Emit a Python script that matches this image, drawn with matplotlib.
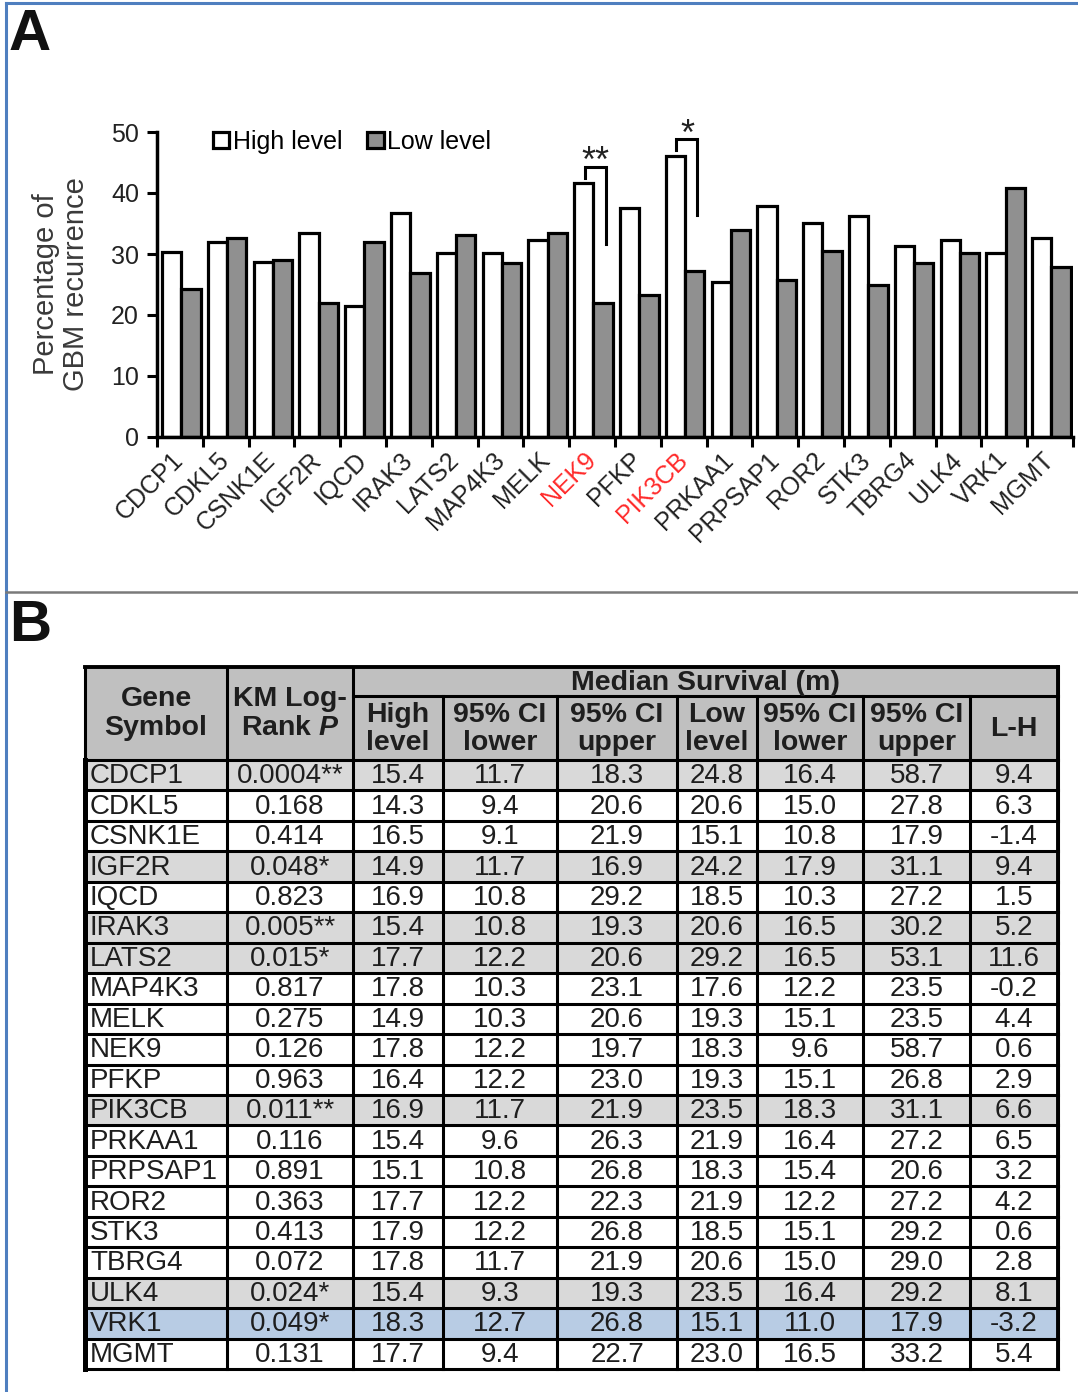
import matplotlib
matplotlib.use("Agg")
import matplotlib.pyplot as plt
from matplotlib.patches import Rectangle
import numpy as np

plt.rcParams['font.family'] = ['Liberation Sans', 'DejaVu Sans']
plt.rcParams['mathtext.fontset'] = 'custom'
plt.rcParams['mathtext.rm'] = 'Liberation Sans:bold'
plt.rcParams['mathtext.it'] = 'Liberation Sans:italic:bold'

# ---- panel A data: % GBM recurrence by expression level ----
genes = ['CDCP1', 'CDKL5', 'CSNK1E', 'IGF2R', 'IQCD', 'IRAK3', 'LATS2', 'MAP4K3',
         'MELK', 'NEK9', 'PFKP', 'PIK3CB', 'PRKAA1', 'PRPSAP1', 'ROR2', 'STK3',
         'TBRG4', 'ULK4', 'VRK1', 'MGMT']
high_pct = [30.4, 31.9, 28.7, 33.4, 21.4, 36.7, 30.2, 30.1, 32.3, 41.7,
            37.5, 46.1, 25.4, 37.8, 35.1, 36.2, 31.3, 32.3, 30.1, 32.7]
low_pct = [24.3, 32.7, 29.0, 22.0, 31.9, 26.9, 33.1, 28.5, 33.4, 21.9,
           23.3, 27.2, 33.9, 25.7, 30.5, 24.9, 28.6, 30.1, 40.9, 27.8]
red_genes = ['NEK9', 'PIK3CB']

# significance brackets: gene, stars, top, left leg end, right leg end
sig_genes = ['NEK9', 'PIK3CB']
sig_stars = ['**', '*']
sig_top = [44.3, 48.8]
sig_left_end = [42.5, 47.0]
sig_right_end = [31.6, 36.4]

# ---- panel B data: median survival table ----
km_p = ['0.0004**', '0.168', '0.414', '0.048*', '0.823', '0.005**', '0.015*', '0.817',
        '0.275', '0.126', '0.963', '0.011**', '0.116', '0.891', '0.363', '0.413',
        '0.072', '0.024*', '0.049*', '0.131']
high_med = ['15.4', '14.3', '16.5', '14.9', '16.9', '15.4', '17.7', '17.8', '14.9', '17.8',
            '16.4', '16.9', '15.4', '15.1', '17.7', '17.9', '17.8', '15.4', '18.3', '17.7']
high_lo = ['11.7', '9.4', '9.1', '11.7', '10.8', '10.8', '12.2', '10.3', '10.3', '12.2',
           '12.2', '11.7', '9.6', '10.8', '12.2', '12.2', '11.7', '9.3', '12.7', '9.4']
high_hi = ['18.3', '20.6', '21.9', '16.9', '29.2', '19.3', '20.6', '23.1', '20.6', '19.7',
           '23.0', '21.9', '26.3', '26.8', '22.3', '26.8', '21.9', '19.3', '26.8', '22.7']
low_med = ['24.8', '20.6', '15.1', '24.2', '18.5', '20.6', '29.2', '17.6', '19.3', '18.3',
           '19.3', '23.5', '21.9', '18.3', '21.9', '18.5', '20.6', '23.5', '15.1', '23.0']
low_lo = ['16.4', '15.0', '10.8', '17.9', '10.3', '16.5', '16.5', '12.2', '15.1', '9.6',
          '15.1', '18.3', '16.4', '15.4', '12.2', '15.1', '15.0', '16.4', '11.0', '16.5']
low_hi = ['58.7', '27.8', '17.9', '31.1', '27.2', '30.2', '53.1', '23.5', '23.5', '58.7',
          '26.8', '31.1', '27.2', '20.6', '27.2', '29.2', '29.0', '29.2', '17.9', '33.2']
l_minus_h = ['9.4', '6.3', '-1.4', '9.4', '1.5', '5.2', '11.6', '-0.2', '4.4', '0.6',
             '2.9', '6.6', '6.5', '3.2', '4.2', '0.6', '2.8', '8.1', '-3.2', '5.4']
highlight_gene = 'VRK1'
sub_headers = ['High\nlevel', '95% CI\nlower', '95% CI\nupper', 'Low\nlevel',
               '95% CI\nlower', '95% CI\nupper', 'L-H']

W, H = 1078, 1392
fig = plt.figure(figsize=(W / 100, H / 100), dpi=100)


def fx(px):
    return px / W


def fy(py):
    return 1 - py / H


# ---------------- panel A: bar chart ----------------
ax = fig.add_axes([fx(157), fy(437), (1073 - 157) / W, (437 - 132) / H])
x = np.arange(len(genes))
bw = 0.42
ax.bar(x + 0.32, high_pct, width=bw, color='white', edgecolor='black',
       linewidth=2.3, label='High level', zorder=2)
ax.bar(x + 0.74, low_pct, width=bw, color='#909090', edgecolor='black',
       linewidth=2.3, label='Low level', zorder=2)

ax.set_xlim(0, len(genes))
ax.set_ylim(0, 50)
ax.set_yticks(range(0, 51, 10))
ax.set_xticks(x + 0.5)
ax.set_xticklabels(genes, rotation=45, ha='right', va='center',
                   rotation_mode='anchor', fontsize=18, color='#222222')
ax.set_xticks(np.arange(len(genes) + 1), minor=True)
ax.tick_params(axis='x', which='major', length=0, pad=14)
ax.tick_params(axis='x', which='minor', length=7, width=2.2, direction='out')
ax.tick_params(axis='y', length=7, width=2.2, direction='out', labelsize=18,
               labelcolor='#222222', pad=6)
for lab in ax.get_xticklabels():
    if lab.get_text() in red_genes:
        lab.set_color('#ff2b2b')

for side in ['top', 'right']:
    ax.spines[side].set_visible(False)
for side in ['left', 'bottom']:
    ax.spines[side].set_linewidth(2.5)

ax.set_ylabel('Percentage of\nGBM recurrence', fontsize=21, color='#3a3a3a',
              linespacing=1.1)
ax.yaxis.set_label_coords(-0.073, 0.5)

ax.legend(loc='upper left', bbox_to_anchor=(0.05, 1.04), ncol=2, frameon=False,
          fontsize=18, handlelength=0.65, handleheight=0.65, handletextpad=0.15,
          columnspacing=1.0, borderaxespad=0)

# brackets over the significant pairs
for g, s, top, le, re in zip(sig_genes, sig_stars, sig_top, sig_left_end, sig_right_end):
    i = genes.index(g)
    x0, x1 = i + 0.34, i + 0.80
    ax.plot([x0, x0, x1, x1], [le, top, top, re], color='black', lw=2.2,
            clip_on=False, solid_joinstyle='miter', zorder=3)
    ax.text((x0 + x1) / 2, top - 2.2, s, ha='center', va='bottom', fontsize=26,
            color='#222222', clip_on=False)

# ---------------- overlay in pixel space: frame + table ----------------
tax = fig.add_axes([0, 0, 1, 1])
tax.set_xlim(0, W)
tax.set_ylim(H, 0)
tax.axis('off')
tax.patch.set_visible(False)

frame_blue = '#4f7fbf'
tax.plot([6, W], [3, 3], color=frame_blue, lw=2.2)
tax.plot([6, 6], [3, H], color=frame_blue, lw=2.2)
tax.plot([6, W], [592, 592], color='#7a7a7a', lw=1.8)

fig.text(fx(9), fy(50), 'A', fontsize=42, fontweight='bold', ha='left',
         va='baseline', color='#111111')
fig.text(fx(9), fy(641), 'B', fontsize=42, fontweight='bold', ha='left',
         va='baseline', color='#111111')

col_edges = [85, 227, 353, 443, 557, 677, 757, 863, 970, 1058]
y_top, y_mid, y_hdr = 667, 696, 760
n_rows = len(genes)
row_h = (1369 - y_hdr) / n_rows
y_bot = y_hdr + n_rows * row_h

hdr_color = '#c0c0c0'
sig_color = '#d9d9d9'
blue_color = '#b8cce4'
txt_color = '#1e1e1e'
lw_cell = 2.2

tax.add_patch(Rectangle((col_edges[0], y_top), col_edges[-1] - col_edges[0],
                        y_hdr - y_top, facecolor=hdr_color, edgecolor='none'))

columns = [genes, km_p, high_med, high_lo, high_hi, low_med, low_lo, low_hi, l_minus_h]
for r in range(n_rows):
    y0 = y_hdr + r * row_h
    if genes[r] == highlight_gene:
        fc = blue_color
    elif '*' in km_p[r]:
        fc = sig_color
    else:
        fc = 'white'
    tax.add_patch(Rectangle((col_edges[0], y0), col_edges[-1] - col_edges[0], row_h,
                            facecolor=fc, edgecolor='none'))
    yc = y0 + row_h / 2 + 1
    for c, col in enumerate(columns):
        if c == 0:
            tax.text(col_edges[0] + 5, yc, col[r], ha='left', va='center',
                     fontsize=20, color=txt_color)
        else:
            tax.text((col_edges[c] + col_edges[c + 1]) / 2, yc, col[r], ha='center',
                     va='center', fontsize=20, color=txt_color)

# grid lines
for r in range(n_rows + 1):
    yy = y_hdr + r * row_h
    tax.plot([col_edges[0], col_edges[-1]], [yy, yy], color='black', lw=lw_cell)
tax.plot([col_edges[2], col_edges[-1]], [y_mid, y_mid], color='black', lw=lw_cell)
for c, xe in enumerate(col_edges):
    ys = y_top if c <= 2 or c == len(col_edges) - 1 else y_mid
    tax.plot([xe, xe], [ys, y_bot], color='black', lw=lw_cell)
tax.plot([col_edges[0], col_edges[-1]], [y_top, y_top], color='black', lw=2.8)
tax.plot([col_edges[0], col_edges[0]], [y_hdr, y_bot], color='black', lw=3.6)
tax.plot([col_edges[-1], col_edges[-1]], [y_top, y_bot], color='black', lw=2.8)

# header text
tax.text((col_edges[0] + col_edges[1]) / 2, (y_top + y_hdr) / 2, 'Gene\nSymbol',
         ha='center', va='center', fontsize=20.5, fontweight='bold', color=txt_color,
         linespacing=1.15)
tax.text((col_edges[1] + col_edges[2]) / 2, (y_top + y_hdr) / 2, 'KM Log-\nRank $P$',
         ha='center', va='center', fontsize=20.5, fontweight='bold', color=txt_color,
         linespacing=1.15)
tax.text((col_edges[2] + col_edges[-1]) / 2, (y_top + y_mid) / 2 + 1, 'Median Survival (m)',
         ha='center', va='center', fontsize=20.5, fontweight='bold', color=txt_color)
for c, label in enumerate(sub_headers):
    tax.text((col_edges[c + 2] + col_edges[c + 3]) / 2, (y_mid + y_hdr) / 2 + 1, label,
             ha='center', va='center', fontsize=20.5, fontweight='bold', color=txt_color,
             linespacing=1.05)

fig.savefig('out.png', dpi=100)
